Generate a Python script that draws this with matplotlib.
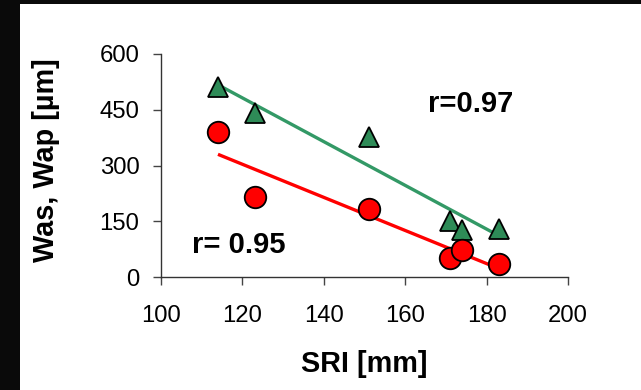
import matplotlib
matplotlib.use("Agg")
import matplotlib.pyplot as plt
import numpy as np
from matplotlib.patches import Rectangle

# SRI [mm] against wear values (Was as triangles, Wap as circles)
sri = [114, 123, 151, 171, 174, 183]
was = [512, 440, 378, 152, 126, 130]
wap = [390, 215, 183, 52, 72, 35]

x_ticks = [100, 120, 140, 160, 180, 200]
y_ticks = [0, 150, 300, 450, 600]

GREEN = "#2E8B57"
GREEN_LINE = "#339966"
RED = "#FF0000"
FRAME = "#0a0a0a"

plt.rcParams["font.family"] = ["Liberation Sans", "DejaVu Sans"]


def main():
    fig = plt.figure(figsize=(6.41, 3.90), dpi=100, facecolor="white")
    # dark frame along the top and left edges
    fig.patches.append(Rectangle((0, 0), 20 / 641, 1, transform=fig.transFigure,
                                 facecolor=FRAME, edgecolor="none"))
    fig.patches.append(Rectangle((0, 1 - 4 / 390), 1, 4 / 390, transform=fig.transFigure,
                                 facecolor=FRAME, edgecolor="none"))

    ax = fig.add_axes([161 / 641, 113 / 390, 407 / 641, 223 / 390])
    ax.set_facecolor("none")

    x = np.array(sri, dtype=float)
    for y, color in [(np.array(was), GREEN_LINE), (np.array(wap), RED)]:
        k, b = np.polyfit(x, y, 1)
        xs = np.array([x.min(), x.max()])
        ax.plot(xs, k * xs + b, color=color, lw=2.4, zorder=2, solid_capstyle="butt")

    ax.plot(sri, was, linestyle="none", marker="^", markersize=15,
            markerfacecolor=GREEN, markeredgecolor="black", markeredgewidth=1.3, zorder=3)
    ax.plot(sri, wap, linestyle="none", marker="o", markersize=15.5,
            markerfacecolor=RED, markeredgecolor="black", markeredgewidth=1.3, zorder=3)

    ax.text(165.6, 444, "r=0.97", fontsize=21, fontweight="bold", ha="left", va="baseline")
    ax.text(107.5, 64, "r= 0.95", fontsize=21, fontweight="bold", ha="left", va="baseline")

    ax.set_xlim(100, 200)
    ax.set_ylim(0, 600)
    ax.set_xticks(x_ticks)
    ax.set_yticks(y_ticks)
    ax.tick_params(axis="both", direction="out", length=6, width=1, color="#444444",
                   labelsize=17.2, labelcolor="black")
    ax.tick_params(axis="x", pad=14.5)
    ax.tick_params(axis="y", pad=9.5)

    for side in ["top", "right"]:
        ax.spines[side].set_visible(False)
    for side in ["left", "bottom"]:
        ax.spines[side].set_color("#333333")
        ax.spines[side].set_linewidth(1)

    ax.set_xlabel("SRI [mm]", fontsize=20.8, fontweight="bold", labelpad=16)
    ax.set_ylabel("Was, Wap [µm]", fontsize=20.8, fontweight="bold")
    ax.yaxis.set_label_coords(-0.248, 0.525)

    fig.savefig("out.png", dpi=100)
    plt.close(fig)


if __name__ == "__main__":
    main()
